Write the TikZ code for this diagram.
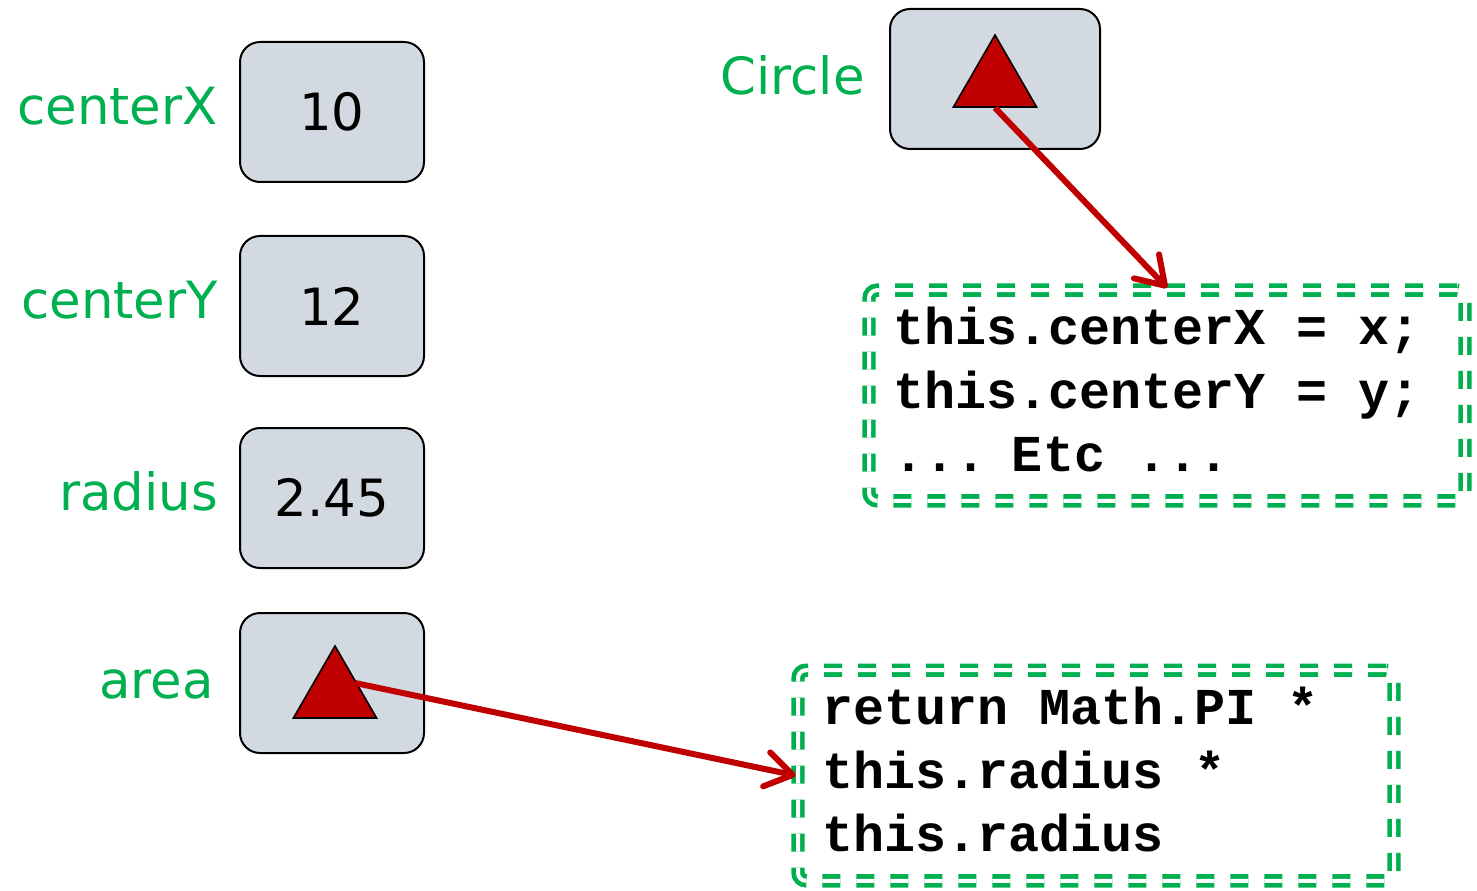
\documentclass[tikz,border=0pt]{standalone}
\usepackage{fontspec}
\setmainfont{DejaVu Sans}
\setmonofont{Liberation Mono}
\usepackage{tikz}
\usetikzlibrary{arrows.meta}
\usetikzlibrary{shapes.geometric}
\definecolor{labelgreen}{HTML}{00B050}
\definecolor{ptrred}{HTML}{C00000}
\definecolor{slotgray}{HTML}{D3D9E1}

\begin{document}
\begin{tikzpicture}[x=0.75pt,y=-0.75pt,
  slot/.style={draw,line width=1.5pt,rounded corners=15pt,fill=slotgray,
    minimum width=138pt,minimum height=105pt,
    font=\fontsize{38.5}{46}\selectfont},
  fieldname/.style={anchor=base east,inner sep=0pt,text=labelgreen,
    font=\fontsize{38.5}{46}\selectfont},
  pointer/.style={regular polygon,regular polygon sides=3,draw,
    line width=1.2pt,fill=ptrred,minimum size=72pt,inner sep=0pt},
  body/.style={draw=labelgreen,line width=3.5pt,double=white,
    double distance=3pt,dash pattern=on 13.5pt off 12pt,rounded corners=6pt,
    minimum width=447pt,minimum height=158pt,text width=411pt,
    inner xsep=18pt,align=left,
    font=\fontsize{38.8}{47.6}\ttfamily\bfseries,
    execute at begin node={\spaceskip=0.6em\relax},
    execute at end node={\rule[-9pt]{0pt}{0pt}}},
  ptr/.style={draw=ptrred,line width=4.5pt,
    -{Straight Barb[length=20pt,width=26pt,round]}}]

  \useasboundingbox (0,0) rectangle (1477,891);

  % fields of the object
  \node[slot] (cx) at (332,112) {10};
  \node[slot] (cy) at (332,306) {12};
  \node[slot] (rad) at (332,498) {2.45};
  \node[slot] (area) at (332,683) {};
  \node[fieldname] (cxname) at (218,125) {centerX};
  \node[fieldname] (cyname) at (218,318) {centerY};
  \node[fieldname] (radname) at (218,510) {radius};
  \node[fieldname] (areaname) at (214,698) {area};

  % methods
  \node[slot,minimum width=157.5pt] (circ) at (995,79) {};
  \node[fieldname] (circname) at (865,95) {Circle};
  \node[pointer] (circtri) at (995,83) {};
  \node[pointer] (areatri) at (335,694) {};

  \node[body] (ctor) at (1167,395.5)
    {this.centerX = x;\\this.centerY = y;\\... Etc ...};
  \node[body] (calc) at (1096,775.5)
    {return Math.PI *\\this.radius *\\this.radius};

  \draw[ptr] (circtri.south) -- (ctor.north);
  \draw[ptr] ([shift={(20,-11)}]areatri.center) -- (calc.west);
\end{tikzpicture}
\end{document}
